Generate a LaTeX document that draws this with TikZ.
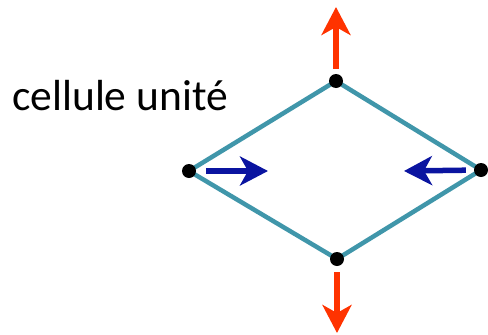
\documentclass[tikz,border=0pt]{standalone}
\usepackage{fontspec}
\setmainfont{Carlito}
\usetikzlibrary{arrows.meta}
\definecolor{bordcell}{RGB}{64,150,170}
\definecolor{rougefl}{RGB}{255,51,0}
\definecolor{bleufl}{RGB}{10,20,160}

\begin{document}
\begin{tikzpicture}[x=1pt,y=-1pt,
        atome/.style={circle, fill=black, inner sep=0pt, minimum size=14pt},
        fleche/.style={line width=5.5pt, -{Stealth[length=28pt,width=29pt,inset=8pt]}}]
        \useasboundingbox (0,0) rectangle (488,335);

        % --- 1. Unit cell (the rhombus) ---
        \coordinate (haut) at (336,81);
        \coordinate (gauche) at (189,171);
        \coordinate (droite) at (481,170);
        \coordinate (bas) at (337,259);
        \draw[bordcell, line width=4.5pt, line join=round]
            (haut) -- (droite) -- (bas) -- (gauche) -- cycle;

        % Atoms at the corners
        \node[atome] (atHaut) at (haut) {};
        \node[atome] (atGauche) at (gauche) {};
        \node[atome] (atDroite) at (droite) {};
        \node[atome] (atBas) at (bas) {};

        % --- 2. Red arrows - outward ---
        \coordinate (finHaut) at (336,7);
        \coordinate (finBas) at (337,333);
        \draw[fleche, rougefl, shorten <=5pt] (atHaut) -- (finHaut);
        \draw[fleche, rougefl, shorten <=6pt] (atBas) -- (finBas);

        % --- 3. Blue arrows - inward ---
        \coordinate (finGauche) at (268,171);
        \coordinate (finDroite) at (404,171);
        \draw[fleche, bleufl, shorten <=10pt] (atGauche) -- (finGauche);
        \draw[fleche, bleufl, shorten <=8pt] (atDroite) -- (finDroite);

        % Label
        \node[anchor=base west, inner sep=0pt, font=\fontsize{43.5}{50}\selectfont]
            (titre) at (12,110) {cellule unité};

    \end{tikzpicture}
\end{document}
